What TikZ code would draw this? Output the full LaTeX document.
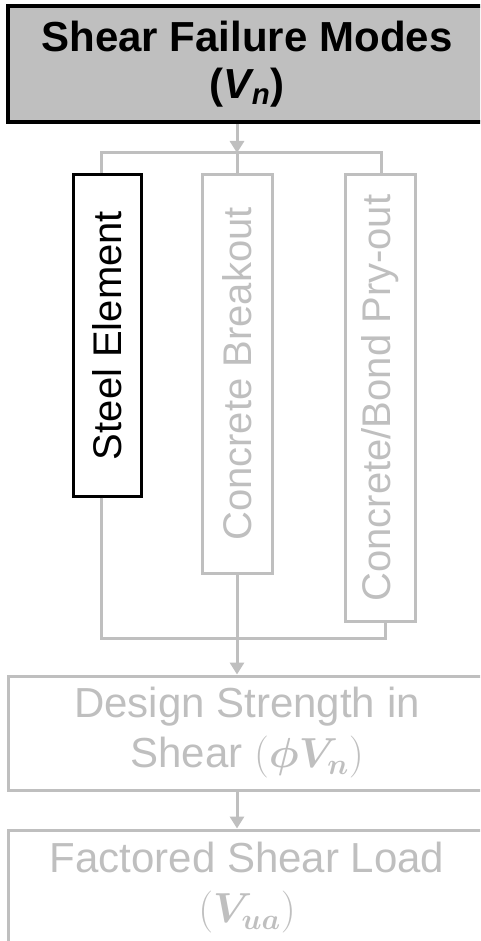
\RequirePackage{fix-cm}
\documentclass[tikz,border=0pt]{standalone}
\usepackage{amsmath,amssymb}
\usepackage{fontspec}
\setmainfont{Liberation Sans}
\usepackage{tikz}
\usetikzlibrary{arrows.meta,calc,positioning}
\definecolor{SFMGray}{HTML}{BFBFBF}
\definecolor{SFMDark}{HTML}{000000}

\begin{document}
\begin{tikzpicture}[x=1pt,y=-1pt,
    wbox/.style={draw=SFMGray,line width=3pt,text=SFMGray,inner sep=0pt,
      align=center,font=\fontsize{42}{50}\selectfont},
    vbox/.style={wbox,font=\fontsize{40}{48}\selectfont},
    link/.style={SFMGray,line width=3pt},
    arr/.style={link,-{Triangle[width=14pt,length=12pt]}}]
  \useasboundingbox (0,0) rectangle (480,941);
  \clip (0,0) rectangle (480,941);
  \node[wbox,draw=SFMDark,line width=4pt,fill=SFMGray,text=SFMDark,
    minimum width=478pt,minimum height=116pt,font=\bfseries\fontsize{42}{47}\selectfont]
    (modes) at (247,64) {Shear Failure Modes\\({\itshape V\textsubscript{n}})};
  \node[vbox,draw=SFMDark,text=SFMDark,minimum width=68pt,minimum height=321pt]
    (steel) at (107,335.5) {\rotatebox{90}{Steel Element}};
  \node[vbox,minimum width=70pt,minimum height=398pt]
    (breakout) at (237,374) {\rotatebox{90}{Concrete Breakout}};
  \node[vbox,minimum width=70pt,minimum height=446pt]
    (pryout) at (380,398) {\rotatebox{90}{Concrete/Bond Pry-out}};
  \node[wbox,minimum width=478pt,minimum height=114pt]
    (design) at (247,733) {Design Strength in\\Shear $(\boldsymbol{\phi V_n})$};
  \node[wbox,minimum width=478pt,minimum height=116pt]
    (factored) at (247,888) {Factored Shear Load\\$(\boldsymbol{V_{ua}})$};
  \coordinate (busTop) at (237,153);
  \coordinate (busBot) at (237,638);
  \draw[arr] (modes.south -| busTop) -- (busTop);
  \draw[link] ([xshift=-6pt]steel.north) |- (busTop) -| ([xshift=1pt]pryout.north);
  \draw[link] (busTop) -- (breakout.north);
  \draw[link] ([xshift=-6pt]steel.south) |- (busBot) -| ([xshift=5pt]pryout.south);
  \draw[arr] (breakout.south) -- (breakout.south |- design.north);
  \draw[arr] (design.south -| breakout.south) -- (breakout.south |- factored.north);
\end{tikzpicture}
\end{document}
